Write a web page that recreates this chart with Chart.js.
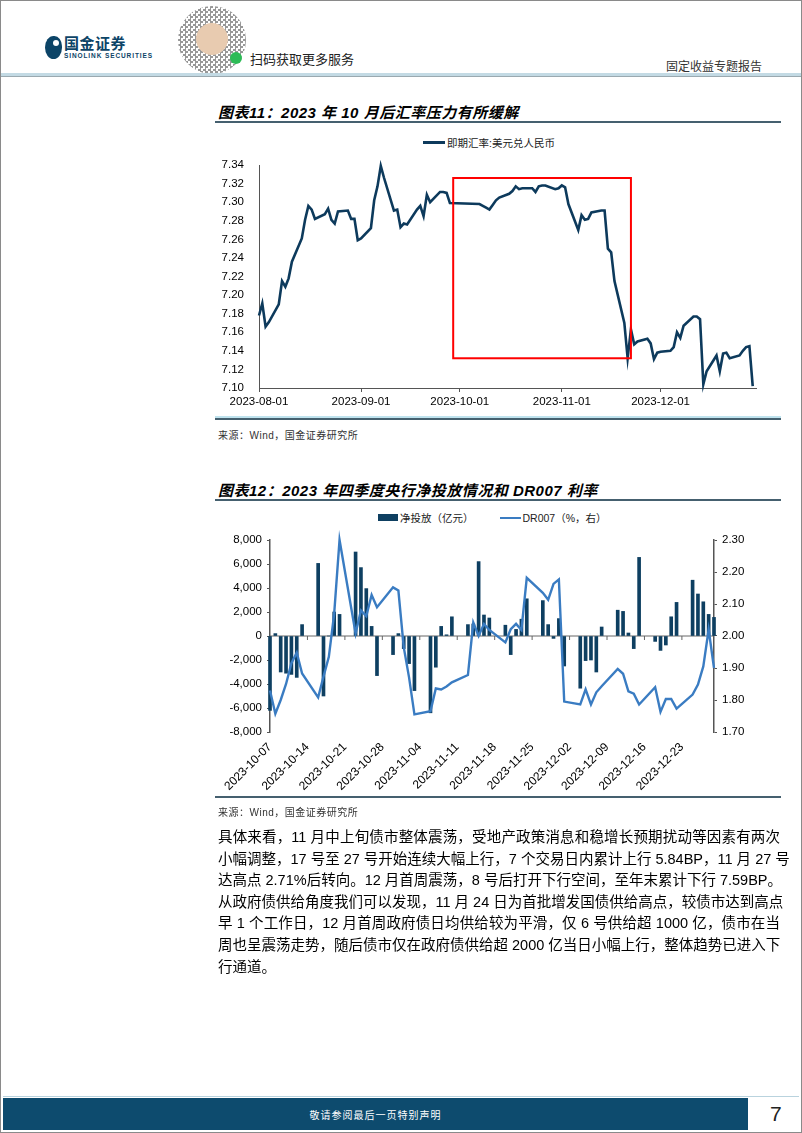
<!DOCTYPE html>
<html>
<head>
<meta charset="utf-8">
<script src="https://cdn.jsdelivr.net/npm/chart.js@4/dist/chart.umd.min.js"></script>
<style>
  html, body { margin: 0; padding: 0; background: #fff; }
  body { width: 802px; height: 1133px; position: relative; overflow: hidden;
         font-family: "Liberation Sans", Arial, "Noto Sans CJK SC", sans-serif; color: #000; }
  .abs { position: absolute; }
  .frame { left: 0; top: 0; width: 800px; height: 1131px; border: 1px solid #8a8a8a; }
  .title { font-weight: bold; font-style: italic; font-size: 15px; letter-spacing: 0.5px; white-space: nowrap; }
  .rule { height: 2px; background: #45606f; }
  .src { font-size: 10px; color: #333; letter-spacing: 0.5px; white-space: nowrap; }
  .legend { font-size: 10.5px; color: #222; white-space: nowrap; display: flex; align-items: center; }
  .para { left: 218px; width: 562px; font-size: 14.5px; line-height: 20px; height: 20px;
          text-align: justify; text-align-last: justify; white-space: nowrap; overflow: visible; }
</style>
</head>
<body>
<div class="abs frame"></div>

<!-- header -->
<div class="abs" style="left:45px;top:36px;width:17px;height:23px;background:#0c4467;border-radius:50% 45% 50% 50%;"></div>
<div class="abs" style="left:53px;top:40px;width:6px;height:6px;background:#fff;border-radius:50%;"></div>
<div class="abs" style="left:64px;top:32px;font-size:15px;font-weight:bold;color:#0c4467;letter-spacing:0.5px;white-space:nowrap;">国金证券</div>
<div class="abs" style="left:64px;top:52px;font-size:6.5px;font-weight:bold;color:#0c4467;white-space:nowrap;letter-spacing:0.9px;">SINOLINK SECURITIES</div>
<div class="abs" style="left:178px;top:6px;width:68px;height:68px;border-radius:50%;
     background:repeating-conic-gradient(#444 0 25%, #fff 0 50%) 0 0/5px 5px;opacity:0.55;"></div>
<div class="abs" style="left:196px;top:23px;width:32px;height:32px;border-radius:50%;background:#e8cbb0;"></div>
<div class="abs" style="left:230px;top:52px;width:12px;height:12px;border-radius:50%;background:#2dbb56;"></div>
<div class="abs" style="left:250px;top:49px;font-size:13px;color:#222;white-space:nowrap;">扫码获取更多服务</div>
<div class="abs" style="left:666px;top:57px;font-size:12px;color:#333;white-space:nowrap;">固定收益专题报告</div>
<div class="abs" style="left:1px;top:73px;width:800px;height:3px;background:#c3dae4;"></div>
<div class="abs" style="left:1px;top:76px;width:800px;height:1px;background:#9aa9b0;"></div>

<!-- chart 11 -->
<div class="abs title" style="left:218px;top:101px;">图表11：2023 年 10 月后汇率压力有所缓解</div>
<div class="abs rule" style="left:215px;top:121px;width:566px;"></div>
<div class="abs legend" style="left:423px;top:135px;">
  <span style="display:inline-block;width:22px;height:3px;background:#0d3a5c;margin-right:2px;"></span>即期汇率:美元兑人民币
</div>
<div class="abs" style="left:200px;top:128px;width:580px;height:288px;"><canvas id="fxChart"></canvas></div>
<div class="abs" style="left:215px;top:416px;width:566px;height:2px;background:#bfe3ee;"></div>
<div class="abs rule" style="left:215px;top:418px;width:566px;height:1.5px;"></div>
<div class="abs src" style="left:218px;top:427px;">来源：Wind，国金证券研究所</div>

<!-- chart 12 -->
<div class="abs title" style="left:218px;top:479px;">图表12：2023 年四季度央行净投放情况和 DR007 利率</div>
<div class="abs rule" style="left:215px;top:499px;width:566px;"></div>
<div class="abs legend" style="left:378px;top:510px;">
  <span style="display:inline-block;width:20px;height:7px;background:#0e3f61;margin-right:2px;"></span>净投放（亿元）
  <span style="display:inline-block;width:21px;height:2px;background:#3a7cc2;margin:0 2px 0 26px;"></span>DR007（%，右）
</div>
<div class="abs" style="left:200px;top:525px;width:580px;height:272px;"><canvas id="flowChart"></canvas></div>
<div class="abs rule" style="left:215px;top:796px;width:566px;height:1.5px;"></div>
<div class="abs src" style="left:218px;top:804px;">来源：Wind，国金证券研究所</div>

<!-- body text -->
<div class="abs para" style="top:827px;">具体来看，11 月中上旬债市整体震荡，受地产政策消息和稳增长预期扰动等因素有两次</div>
<div class="abs para" style="top:849px;">小幅调整，17 号至 27 号开始连续大幅上行，7 个交易日内累计上行 5.84BP，11 月 27 号</div>
<div class="abs para" style="top:870px;">达高点 2.71%后转向。12 月首周震荡，8 号后打开下行空间，至年末累计下行 7.59BP。</div>
<div class="abs para" style="top:892px;">从政府债供给角度我们可以发现，11 月 24 日为首批增发国债供给高点，较债市达到高点</div>
<div class="abs para" style="top:913px;">早 1 个工作日，12 月首周政府债日均供给较为平滑，仅 6 号供给超 1000 亿，债市在当</div>
<div class="abs para" style="top:935px;">周也呈震荡走势，随后债市仅在政府债供给超 2000 亿当日小幅上行，整体趋势已进入下</div>
<div class="abs para" style="top:957px;text-align-last:left;">行通道。</div>

<!-- footer -->
<div class="abs" style="left:3px;top:1096px;width:796px;height:1px;background:#b9d3de;"></div>
<div class="abs" style="left:3px;top:1098px;width:745px;height:32px;background:#0d4b6e;"></div>
<div class="abs" style="left:3px;top:1107px;width:745px;text-align:center;font-size:10px;color:#fff;letter-spacing:1px;">敬请参阅最后一页特别声明</div>
<div class="abs" style="left:770px;top:1102px;font-size:21px;color:#222;">7</div>

<script>
// ---- 图表11 数据 ----
const fxDates = [
  '2023-08-01','2023-08-02','2023-08-03','2023-08-04','2023-08-07','2023-08-08','2023-08-09','2023-08-10','2023-08-11',
  '2023-08-14','2023-08-15','2023-08-16','2023-08-17','2023-08-18','2023-08-21','2023-08-22','2023-08-23','2023-08-24',
  '2023-08-25','2023-08-28','2023-08-29','2023-08-30','2023-08-31','2023-09-01','2023-09-04','2023-09-05','2023-09-06',
  '2023-09-07','2023-09-08','2023-09-11','2023-09-12','2023-09-13','2023-09-14','2023-09-15','2023-09-18','2023-09-19',
  '2023-09-20','2023-09-21','2023-09-22','2023-09-25','2023-09-26','2023-09-27','2023-09-28','2023-10-07','2023-10-08',
  '2023-10-09','2023-10-10','2023-10-11','2023-10-12','2023-10-13','2023-10-16','2023-10-17','2023-10-18','2023-10-19',
  '2023-10-20','2023-10-23','2023-10-24','2023-10-25','2023-10-26','2023-10-27','2023-10-30','2023-10-31','2023-11-01',
  '2023-11-02','2023-11-03','2023-11-06','2023-11-07','2023-11-08','2023-11-09','2023-11-10','2023-11-13','2023-11-14',
  '2023-11-15','2023-11-16','2023-11-17','2023-11-20','2023-11-21','2023-11-22','2023-11-23','2023-11-24','2023-11-27',
  '2023-11-28','2023-11-29','2023-11-30','2023-12-01','2023-12-04','2023-12-05','2023-12-06','2023-12-07','2023-12-08',
  '2023-12-11','2023-12-12','2023-12-13','2023-12-14','2023-12-15','2023-12-18','2023-12-19','2023-12-20','2023-12-21',
  '2023-12-22','2023-12-25','2023-12-26','2023-12-27','2023-12-28','2023-12-29'
];
const fxValues = [
  7.178, 7.191, 7.166, 7.171, 7.190, 7.215, 7.209, 7.218, 7.236,
  7.261, 7.281, 7.296, 7.292, 7.282, 7.287, 7.293, 7.281, 7.277,
  7.290, 7.291, 7.282, 7.282, 7.259, 7.261, 7.272, 7.302, 7.317,
  7.339, 7.326, 7.291, 7.292, 7.273, 7.277, 7.276, 7.292, 7.296,
  7.285, 7.308, 7.300, 7.311, 7.311, 7.310, 7.299, 7.298, 7.296,
  7.294, 7.292, 7.297, 7.302, 7.305, 7.309, 7.312, 7.317, 7.314,
  7.315, 7.315, 7.311, 7.317, 7.318, 7.318, 7.314, 7.315, 7.318,
  7.316, 7.298, 7.270, 7.286, 7.281, 7.282, 7.289, 7.291, 7.291,
  7.250, 7.246, 7.215, 7.170, 7.132, 7.163, 7.147, 7.150, 7.153,
  7.148, 7.131, 7.138, 7.139, 7.140, 7.144, 7.160, 7.154, 7.167,
  7.177, 7.177, 7.174, 7.104, 7.118, 7.135, 7.118, 7.137, 7.138,
  7.132, 7.135, 7.140, 7.144, 7.145, 7.102
];
const fxMonthTicks = ['2023-08-01','2023-09-01','2023-10-01','2023-11-01','2023-12-01'];
const fxAxisEnd = '2023-12-30';
const fxYMin = 7.10, fxYMax = 7.34, fxYStep = 0.02;
const fxBoxFrom = '2023-09-29', fxBoxTo = '2023-11-22', fxBoxLow = 7.132, fxBoxHigh = 7.326;

// ---- 图表12 数据 ----
const flowDays = [
  '2023-10-07','2023-10-08','2023-10-09','2023-10-10','2023-10-11','2023-10-12','2023-10-13',
  '2023-10-16','2023-10-17','2023-10-18','2023-10-19','2023-10-20',
  '2023-10-23','2023-10-24','2023-10-25','2023-10-26','2023-10-27','2023-10-30','2023-10-31',
  '2023-11-01','2023-11-02','2023-11-03','2023-11-06','2023-11-07','2023-11-08','2023-11-09','2023-11-10',
  '2023-11-13','2023-11-14','2023-11-15','2023-11-16','2023-11-17','2023-11-20','2023-11-21','2023-11-22',
  '2023-11-23','2023-11-24','2023-11-27','2023-11-28','2023-11-29','2023-11-30',
  '2023-12-01','2023-12-04','2023-12-05','2023-12-06','2023-12-07','2023-12-08',
  '2023-12-11','2023-12-12','2023-12-13','2023-12-14','2023-12-15','2023-12-18','2023-12-19','2023-12-20',
  '2023-12-21','2023-12-22','2023-12-25','2023-12-26','2023-12-27','2023-12-28','2023-12-29'
];
const netInjection = [
  -6200, 200, -3000, -3100, -3200, -3450, 950,
  6050, -5000, 0, 2000, 1800,
  7000, 5700, 3950, 800, -3300, -1550, 200,
  -1050, -2300, -4550, -6400, -2600, 800, 100, 1600,
  950, 1000, 6200, 1750, 1500, 900, -1550, 550,
  1400, 3100, 2950, 950, -200, 1450,
  -2500, -4350, -2050, -2000, -3000, 750,
  2150, 2050, 250, -1050, 6550, -450, -1200, -750,
  1600, 2800, 4650, 3500, 2850, 1800, 1550
];
const dr007 = [
  1.830, 1.757, 1.800, 1.850, 1.915, 1.948, 1.883,
  1.808, 1.873, 1.935, 2.070, 2.300,
  2.008, 2.080, 2.062, 2.128, 2.090, 2.152, 2.142,
  1.965, 1.870, 1.755, 1.765, 1.836, 1.833, 1.842, 1.855,
  1.878, 2.042, 2.000, 2.038, 2.019, 1.980, 2.021, 2.038,
  2.019, 2.182, 2.135, 2.113, 2.163, 2.177,
  1.795, 1.786, 1.833, 1.786, 1.824, 1.843,
  1.897, 1.882, 1.827, 1.820, 1.786, 1.840, 1.763, 1.803,
  1.803, 1.773, 1.817, 1.848, 1.905, 2.020, 1.900
];
const flowStart = '2023-10-07', flowEnd = '2023-12-29';
const flowLabelEvery = 7;
const leftMin = -8000, leftMax = 8000, leftStep = 2000;
const rightMin = 1.70, rightMax = 2.30, rightStep = 0.10;

Chart.defaults.font.family = '"Liberation Sans", Arial, sans-serif';
Chart.defaults.font.size = 11;
Chart.defaults.color = '#000';
Chart.defaults.animation = false;

function utc(s) {
  const p = s.split('-').map(Number);
  return Date.UTC(p[0], p[1] - 1, p[2]);
}
const fxOrigin = utc(fxDates[0]);
function fxDay(s) { return (utc(s) - fxOrigin) / 86400000; }

// 红框标注
const boxPlugin = {
  id: 'fxBox',
  afterDatasetsDraw(chart) {
    const x = chart.scales.x, y = chart.scales.y, ctx = chart.ctx;
    const l = x.getPixelForValue(fxDay(fxBoxFrom)), r = x.getPixelForValue(fxDay(fxBoxTo));
    const t = y.getPixelForValue(fxBoxHigh), b = y.getPixelForValue(fxBoxLow);
    ctx.save();
    ctx.strokeStyle = '#ff0000';
    ctx.lineWidth = 2;
    ctx.strokeRect(l, t, r - l, b - t);
    ctx.restore();
  }
};

new Chart(document.getElementById('fxChart'), {
  type: 'line',
  data: {
    datasets: [{
      label: '即期汇率:美元兑人民币',
      data: fxDates.map((d, i) => ({ x: fxDay(d), y: fxValues[i] })),
      borderColor: '#0d3a5c',
      borderWidth: 2.6,
      pointRadius: 0,
      tension: 0,
      clip: false
    }]
  },
  options: {
    responsive: true,
    maintainAspectRatio: false,
    layout: { padding: { top: 37, right: 24, left: 0, bottom: 0 } },
    plugins: { legend: { display: false }, tooltip: { enabled: false } },
    scales: {
      x: {
        type: 'linear',
        min: 0,
        max: fxDay(fxAxisEnd),
        afterBuildTicks: s => { s.ticks = fxMonthTicks.map(d => ({ value: fxDay(d) })); },
        afterFit: s => { s.height = 28; },
        ticks: {
          autoSkip: false, maxRotation: 0, padding: 3, font: { size: 11.5 },
          callback: v => fxMonthTicks.find(d => fxDay(d) === v) || ''
        },
        grid: { display: true, drawOnChartArea: false, drawTicks: true, tickLength: 4, color: '#555' },
        border: { display: true, color: '#555', width: 1 }
      },
      y: {
        min: fxYMin,
        max: fxYMax,
        afterFit: s => { s.width = 59; },
        ticks: { stepSize: fxYStep, padding: 7, font: { size: 11.5 }, callback: v => Number(v).toFixed(2) },
        grid: { display: false },
        border: { display: true, color: '#555', width: 1 }
      }
    }
  },
  plugins: [boxPlugin]
});

// ---- 图表12 ----
const calendar = [];
for (let t = utc(flowStart); t <= utc(flowEnd); t += 86400000) {
  calendar.push(new Date(t).toISOString().slice(0, 10));
}
const barSeries = calendar.map(d => { const i = flowDays.indexOf(d); return i < 0 ? null : netInjection[i]; });
const lineSeries = calendar.map(d => { const i = flowDays.indexOf(d); return i < 0 ? null : dr007[i]; });

const zeroAxisPlugin = {
  id: 'zeroAxis',
  beforeDatasetsDraw(chart) {
    const x = chart.scales.x, y = chart.scales.y, ctx = chart.ctx;
    const y0 = y.getPixelForValue(0);
    ctx.save();
    ctx.strokeStyle = '#666';
    ctx.lineWidth = 1;
    ctx.beginPath();
    ctx.moveTo(chart.chartArea.left, y0);
    ctx.lineTo(chart.chartArea.right, y0);
    calendar.forEach((d, i) => {
      if (i % flowLabelEvery === 0) {
        const px = x.getPixelForValue(i);
        ctx.moveTo(px, y0);
        ctx.lineTo(px, y0 + 4);
      }
    });
    ctx.stroke();
    ctx.restore();
  }
};

new Chart(document.getElementById('flowChart'), {
  type: 'bar',
  data: {
    labels: calendar,
    datasets: [
      {
        type: 'line',
        label: 'DR007（%，右）',
        data: lineSeries,
        yAxisID: 'y1',
        borderColor: '#3a7cc2',
        borderWidth: 2.4,
        pointRadius: 0,
        tension: 0,
        spanGaps: true,
        order: 1,
        clip: false
      },
      {
        type: 'bar',
        label: '净投放（亿元）',
        data: barSeries,
        yAxisID: 'y',
        backgroundColor: '#0e3f61',
        barThickness: 3,
        order: 2,
        clip: false
      }
    ]
  },
  options: {
    responsive: true,
    maintainAspectRatio: false,
    layout: { padding: { top: 15, right: 0, left: 0, bottom: 0 } },
    plugins: { legend: { display: false }, tooltip: { enabled: false } },
    scales: {
      x: {
        offset: false,
        afterFit: s => { s.height = 65; },
        ticks: {
          autoSkip: false, minRotation: 45, maxRotation: 45, padding: 0, font: { size: 12 },
          callback: (v, i) => (i % flowLabelEvery === 0 ? calendar[i] : '')
        },
        grid: { display: false },
        border: { display: false }
      },
      y: {
        position: 'left',
        min: leftMin,
        max: leftMax,
        afterFit: s => { s.width = 70; },
        ticks: { stepSize: leftStep, padding: 5, font: { size: 11.5 } },
        grid: { drawOnChartArea: false, drawTicks: true, tickLength: 3, color: '#555' },
        border: { display: true, color: '#555', width: 1.5 }
      },
      y1: {
        position: 'right',
        min: rightMin,
        max: rightMax,
        afterFit: s => { s.width = 66; },
        ticks: { stepSize: rightStep, padding: 5, font: { size: 11.5 }, callback: v => Number(v).toFixed(2) },
        grid: { drawOnChartArea: false, drawTicks: true, tickLength: 3, color: '#555' },
        border: { display: true, color: '#555', width: 1.5 }
      }
    }
  },
  plugins: [zeroAxisPlugin]
});
</script>
</body>
</html>
